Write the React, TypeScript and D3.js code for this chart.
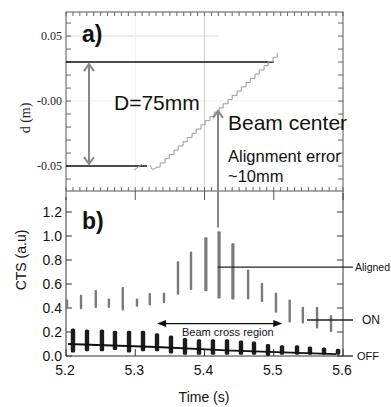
import React, { useEffect, useRef } from 'react';
import * as d3 from 'd3';

// shared time axis
const X_TICKS = [5.2, 5.3, 5.4, 5.5, 5.6];
const X_LABELS = ['5.2', '5.3', '5.4', '5.5', '5.6'];

// panel a) position d (m) vs time
const A_TICK_VALUES = [0.05, 0, -0.05];
const A_TICK_LABELS = ['0.05', '-0.00', '-0.05'];
const A_TOP_LINE = 0.03;
const A_BOTTOM_LINE = -0.05;
const A_TOP_LINE_END = 5.5;
const A_BOTTOM_LINE_END = 5.317;
const A_START_T = [5.2982, 5.3098];
const A_START_D = [-0.0531, -0.0485];
const A_NOTCH_T = [5.3213, 5.3242, 5.3285, 5.330];
const A_NOTCH_D = [-0.0492, -0.0523, -0.0523, -0.0508];
const A_STAIR_T = [5.330, 5.336, 5.343, 5.349, 5.356, 5.362, 5.369, 5.375, 5.382, 5.388, 5.395, 5.401, 5.408, 5.414,
  5.421, 5.427, 5.434, 5.440, 5.447, 5.453, 5.460, 5.466, 5.473, 5.479, 5.486, 5.492, 5.499, 5.505];
const A_STAIR_D = [-0.0508, -0.0476, -0.0443, -0.0411, -0.0378, -0.0346, -0.0313, -0.0281, -0.0248, -0.0216, -0.0183,
  -0.0151, -0.0118, -0.0086, -0.0053, -0.0021, 0.0012, 0.0044, 0.0077, 0.0109, 0.0142, 0.0174, 0.0207, 0.0239, 0.0272,
  0.0304, 0.0337, 0.0369];
const D_ARROW_T = 5.2332;
const BEAM_T = 5.4195;

// panel b) CTS vs time
const B_TICKS = [0, 0.2, 0.4, 0.6, 0.8, 1.0, 1.2];
const B_LABELS = ['0.0', '0.2', '0.4', '0.6', '0.8', '1.0', '1.2'];
const ALIGNED_T = [5.2015, 5.2217, 5.243, 5.262, 5.282, 5.3025, 5.321, 5.3415, 5.3617, 5.3805, 5.402, 5.421, 5.441,
  5.463, 5.483, 5.5032, 5.523, 5.542, 5.5625, 5.5827];
const ALIGNED_LO = [0.40, 0.39, 0.40, 0.40, 0.38, 0.41, 0.42, 0.44, 0.51, 0.55, 0.54, 0.48, 0.47, 0.47, 0.45, 0.36, 0.28,
  0.27, 0.23, 0.20];
const ALIGNED_HI = [0.47, 0.51, 0.55, 0.48, 0.575, 0.48, 0.525, 0.53, 0.79, 0.87, 0.99, 1.04, 0.94, 0.72, 0.61, 0.53, 0.47,
  0.41, 0.41, 0.34];
const OFF_T = [5.2101, 5.2303, 5.2519, 5.2707, 5.291, 5.3112, 5.3314, 5.3516, 5.3718, 5.392, 5.4122, 5.4325, 5.4527,
  5.4715, 5.4917, 5.5119, 5.5336, 5.5523, 5.5726, 5.5928];
const OFF_LO = [0.03, 0.04, 0.04, 0.05, 0.03, 0.04, 0.04, 0.02, 0.01, 0.01, 0.01, 0.01, 0.01, 0.01, 0.0, 0.01, 0.01, 0.01,
  0.01, 0.01];
const OFF_HI = [0.23, 0.22, 0.22, 0.21, 0.21, 0.21, 0.19, 0.17, 0.15, 0.14, 0.14, 0.14, 0.13, 0.12, 0.10, 0.09, 0.09, 0.08,
  0.07, 0.06];
const TREND_T = [5.203, 5.33, 5.44, 5.59];
const TREND_V = [0.10, 0.075, 0.045, 0.015];
const ALIGNED_LEVEL = 0.74;
const ON_LEVEL = 0.30;
const ON_START = 5.548;
const CROSS_T = [5.3315, 5.5123];
const CROSS_V = 0.27;

const SANS = 'Liberation Sans, Arial, sans-serif';
const SERIF = 'Liberation Serif, Times New Roman, serif';

export default function App() {
  const ref = useRef<SVGSVGElement>(null);

  useEffect(() => {
    document.body.style.margin = '0';
    const svg = d3.select(ref.current);
    svg.selectAll('*').remove();

    const x = d3.scaleLinear().domain([5.2, 5.6]).range([66, 343]);
    const yA = d3.scaleLinear().domain([-0.0692, 0.0685]).range([191, 12]);
    const yB = d3.scaleLinear().domain([0, 1.325]).range([356, 197]);

    // ---------- panel a ----------
    const a = svg.append('g');

    // light grid
    a.append('line').attr('x1', x(5.2)).attr('x2', x(5.42)).attr('y1', yA(0.05)).attr('y2', yA(0.05))
      .attr('stroke', '#e4e4e4').attr('stroke-width', 1.5);
    a.append('line').attr('x1', x(5.2)).attr('x2', x(5.6)).attr('y1', yA(0)).attr('y2', yA(0))
      .attr('stroke', '#f0f0f0');
    a.append('line').attr('x1', x(5.3)).attr('x2', x(5.3)).attr('y1', yA.range()[1]).attr('y2', yA.range()[0])
      .attr('stroke', '#f0f0f0');
    a.append('line').attr('x1', x(5.4)).attr('x2', x(5.4)).attr('y1', yA.range()[1]).attr('y2', yA.range()[0])
      .attr('stroke', '#cfcfcf');

    // frame
    a.append('rect').attr('x', x(5.2)).attr('y', 12).attr('width', x(5.6) - x(5.2)).attr('height', 191 - 12)
      .attr('fill', 'none').attr('stroke', '#555');

    const minorT = d3.range(0, 41).map(i => 5.2 + i * 0.01);
    a.selectAll('line.tt').data(minorT).enter().append('line')
      .attr('x1', d => x(d)).attr('x2', d => x(d)).attr('y1', 12).attr('y2', 16)
      .attr('stroke', '#666');
    a.selectAll('line.tb').data(minorT).enter().append('line')
      .attr('x1', d => x(d)).attr('x2', d => x(d)).attr('y1', 191).attr('y2', 187)
      .attr('stroke', '#666');
    a.selectAll('line.tmaj').data(X_TICKS).enter().append('line')
      .attr('x1', d => x(d)).attr('x2', d => x(d)).attr('y1', 191).attr('y2', 200)
      .attr('stroke', '#555');
    const minorD = d3.range(-6, 7).map(i => i * 0.01);
    a.selectAll('line.tl').data(minorD).enter().append('line')
      .attr('x1', x(5.2)).attr('x2', x(5.2) + 5).attr('y1', d => yA(d)).attr('y2', d => yA(d))
      .attr('stroke', '#666');
    a.selectAll('line.tr').data(minorD).enter().append('line')
      .attr('x1', x(5.6)).attr('x2', x(5.6) - 5).attr('y1', d => yA(d)).attr('y2', d => yA(d))
      .attr('stroke', '#666');

    a.selectAll('text.yl').data(A_TICK_VALUES).enter().append('text')
      .attr('x', 62).attr('y', d => yA(d) + 4).attr('text-anchor', 'end')
      .attr('font-family', SERIF).attr('font-size', 12).attr('fill', '#222')
      .text((d, i) => A_TICK_LABELS[i]);

    a.append('text').attr('transform', `translate(30,${yA(-0.013)}) rotate(-90)`)
      .attr('text-anchor', 'middle').attr('font-family', SERIF).attr('font-size', 14).attr('fill', '#222')
      .text('d (m)');

    // level lines
    a.append('line').attr('x1', x(5.2)).attr('x2', x(A_TOP_LINE_END)).attr('y1', yA(A_TOP_LINE)).attr('y2', yA(A_TOP_LINE))
      .attr('stroke', '#111').attr('stroke-width', 1.5);
    a.append('line').attr('x1', x(5.2)).attr('x2', x(A_BOTTOM_LINE_END)).attr('y1', yA(A_BOTTOM_LINE)).attr('y2', yA(A_BOTTOM_LINE))
      .attr('stroke', '#111').attr('stroke-width', 1.5);

    // position trace
    const startPts = A_START_T.map((t, i) => [x(t), yA(A_START_D[i])] as [number, number]);
    const notchPts = A_NOTCH_T.map((t, i) => [x(t), yA(A_NOTCH_D[i])] as [number, number]);
    const stairPts = A_STAIR_T.map((t, i) => [x(t), yA(A_STAIR_D[i])] as [number, number]);
    a.append('path').attr('d', d3.line()(startPts)).attr('fill', 'none').attr('stroke', '#999').attr('stroke-width', 1);
    a.append('path').attr('d', d3.line()(notchPts)).attr('fill', 'none').attr('stroke', '#999').attr('stroke-width', 1);
    a.append('path').attr('d', d3.line().curve(d3.curveStepAfter)(stairPts)).attr('fill', 'none')
      .attr('stroke', '#999').attr('stroke-width', 1);

    // D arrow
    const dx = x(D_ARROW_T);
    const y1 = yA(A_TOP_LINE) + 1;
    const y2 = yA(A_BOTTOM_LINE) - 1;
    a.append('line').attr('x1', dx).attr('x2', dx).attr('y1', y1 + 1).attr('y2', y2 - 1)
      .attr('stroke', '#888').attr('stroke-width', 2);
    a.append('path').attr('d', `M${dx - 5},${y1 + 8}L${dx},${y1 + 1}L${dx + 5},${y1 + 8}`)
      .attr('fill', 'none').attr('stroke', '#888').attr('stroke-width', 2);
    a.append('path').attr('d', `M${dx - 5},${y2 - 8}L${dx},${y2 - 1}L${dx + 5},${y2 - 8}`)
      .attr('fill', 'none').attr('stroke', '#888').attr('stroke-width', 2);

    a.append('text').attr('x', 82).attr('y', 42).attr('font-family', SANS).attr('font-weight', 'bold')
      .attr('font-size', 23).attr('fill', '#111').text('a)');
    a.append('text').attr('x', 114).attr('y', 110).attr('font-family', SANS).attr('font-size', 21)
      .attr('fill', '#111').text('D=75mm');
    a.append('text').attr('x', 228).attr('y', 130).attr('font-family', SANS).attr('font-size', 21)
      .attr('fill', '#111').text('Beam center');
    a.append('text').attr('x', 228).attr('y', 162).attr('font-family', SANS).attr('font-size', 16.5)
      .attr('fill', '#111').text('Alignment error');
    a.append('text').attr('x', 228).attr('y', 182).attr('font-family', SANS).attr('font-size', 16.5)
      .attr('fill', '#111').text('~10mm');

    // beam center arrow (spans both panels)
    const bx = x(BEAM_T);
    const bTop = yA(-0.0053) + 2;
    svg.append('line').attr('x1', bx).attr('x2', bx).attr('y1', bTop + 1).attr('y2', yB(1.07))
      .attr('stroke', '#888').attr('stroke-width', 2);
    svg.append('path').attr('d', `M${bx - 5},${bTop + 8}L${bx},${bTop + 1}L${bx + 5},${bTop + 8}`)
      .attr('fill', 'none').attr('stroke', '#888').attr('stroke-width', 2);

    // ---------- panel b ----------
    const b = svg.append('g');
    b.append('line').attr('x1', x(5.2)).attr('x2', x(5.2)).attr('y1', 197).attr('y2', yB(0))
      .attr('stroke', '#333');
    b.append('line').attr('x1', x(5.6)).attr('x2', x(5.6)).attr('y1', 193).attr('y2', yB(0))
      .attr('stroke', '#333');
    b.append('line').attr('x1', x(5.2)).attr('x2', x(5.6)).attr('y1', yB(0)).attr('y2', yB(0))
      .attr('stroke', '#333');

    b.selectAll('line.bl').data(B_TICKS).enter().append('line')
      .attr('x1', x(5.2)).attr('x2', x(5.2) + 6).attr('y1', d => yB(d)).attr('y2', d => yB(d))
      .attr('stroke', '#333');
    b.selectAll('line.br').data(B_TICKS).enter().append('line')
      .attr('x1', x(5.6)).attr('x2', x(5.6) - 6).attr('y1', d => yB(d)).attr('y2', d => yB(d))
      .attr('stroke', '#333');
    b.selectAll('line.bb').data(X_TICKS).enter().append('line')
      .attr('x1', d => x(d)).attr('x2', d => x(d)).attr('y1', yB(0)).attr('y2', yB(0) - 7)
      .attr('stroke', '#333');

    b.selectAll('text.byl').data(B_TICKS).enter().append('text')
      .attr('x', 62).attr('y', d => yB(d) + 5).attr('text-anchor', 'end')
      .attr('font-family', SANS).attr('font-size', 14).attr('fill', '#111')
      .text((d, i) => B_LABELS[i]);
    b.selectAll('text.bxl').data(X_TICKS).enter().append('text')
      .attr('x', d => x(d) - 1).attr('y', 375).attr('text-anchor', 'middle')
      .attr('font-family', SANS).attr('font-size', 14).attr('fill', '#111')
      .text((d, i) => X_LABELS[i]);
    b.append('text').attr('x', 204).attr('y', 402).attr('text-anchor', 'middle')
      .attr('font-family', SANS).attr('font-size', 14).attr('fill', '#111').text('Time (s)');
    b.append('text').attr('transform', `translate(26,${yB(0.8)}) rotate(-90)`)
      .attr('text-anchor', 'middle').attr('font-family', SANS).attr('font-size', 14).attr('fill', '#111')
      .text('CTS (a.u)');
    b.append('text').attr('x', 82).attr('y', 229).attr('font-family', SANS).attr('font-weight', 'bold')
      .attr('font-size', 23).attr('fill', '#111').text('b)');

    // aligned bursts
    b.selectAll('rect.al').data(ALIGNED_T).enter().append('rect')
      .attr('x', (d, i) => x(d) - (i >= 10 && i <= 12 ? 1.6 : 1.2))
      .attr('width', (d, i) => (i >= 10 && i <= 12 ? 3.2 : 2.4))
      .attr('y', (d, i) => yB(ALIGNED_HI[i]))
      .attr('height', (d, i) => yB(ALIGNED_LO[i]) - yB(ALIGNED_HI[i]))
      .attr('rx', 1).attr('fill', '#7a7a7a');

    // off bursts
    b.selectAll('rect.off').data(OFF_T).enter().append('rect')
      .attr('x', d => x(d) - 2.2).attr('width', 4.4)
      .attr('y', (d, i) => yB(OFF_HI[i]))
      .attr('height', (d, i) => yB(OFF_LO[i]) - yB(OFF_HI[i]))
      .attr('rx', 1.5).attr('fill', '#1c1c1c');

    const trend = TREND_T.map((t, i) => [x(t), yB(TREND_V[i])] as [number, number]);
    b.append('path').attr('d', d3.line()(trend)).attr('fill', 'none').attr('stroke', '#111').attr('stroke-width', 1.8);

    // level markers and labels
    b.append('line').attr('x1', x(BEAM_T)).attr('x2', 353).attr('y1', yB(ALIGNED_LEVEL)).attr('y2', yB(ALIGNED_LEVEL))
      .attr('stroke', '#222').attr('stroke-width', 1.3);
    b.append('line').attr('x1', x(ON_START)).attr('x2', 353).attr('y1', yB(ON_LEVEL)).attr('y2', yB(ON_LEVEL))
      .attr('stroke', '#222').attr('stroke-width', 1.3);
    b.append('line').attr('x1', 343).attr('x2', 353).attr('y1', yB(0)).attr('y2', yB(0))
      .attr('stroke', '#222').attr('stroke-width', 1.3);
    b.append('text').attr('x', 355).attr('y', yB(ALIGNED_LEVEL) + 4).attr('font-family', SANS).attr('font-size', 10.5)
      .attr('fill', '#111').text('Aligned');
    b.append('text').attr('x', 362).attr('y', yB(ON_LEVEL) + 4).attr('font-family', SANS).attr('font-size', 12)
      .attr('fill', '#111').text('ON');
    b.append('text').attr('x', 357).attr('y', yB(0) + 4).attr('font-family', SANS).attr('font-size', 11)
      .attr('fill', '#111').text('OFF');

    // beam cross region arrow
    const cx1 = x(CROSS_T[0]);
    const cx2 = x(CROSS_T[1]);
    const cy = yB(CROSS_V);
    b.append('line').attr('x1', cx1 + 6).attr('x2', cx2 - 6).attr('y1', cy).attr('y2', cy)
      .attr('stroke', '#111').attr('stroke-width', 1.3);
    b.append('path').attr('d', `M${cx1},${cy}L${cx1 + 9},${cy - 3.5}L${cx1 + 9},${cy + 3.5}Z`).attr('fill', '#111');
    b.append('path').attr('d', `M${cx2},${cy}L${cx2 - 9},${cy - 3.5}L${cx2 - 9},${cy + 3.5}Z`).attr('fill', '#111');
    b.append('text').attr('x', 182).attr('y', 336).attr('font-family', SANS).attr('font-size', 11)
      .attr('fill', '#111').text('Beam cross region');
  }, []);

  return <svg ref={ref} width={391} height={407} style={{ display: 'block', background: '#fff' }} />;
}
